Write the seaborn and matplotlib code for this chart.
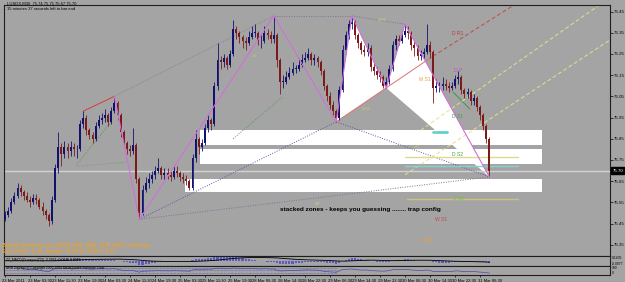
import numpy as np
import pandas as pd
import matplotlib
matplotlib.use("Agg")
import matplotlib.pyplot as plt
import matplotlib.transforms as mtransforms
import seaborn as sns

# ---------------- data (hourly candles) ----------------
first_open = 75.47
closes = [75.49, 75.51, 75.55, 75.58, 75.62, 75.60, 75.58, 75.56, 75.55, 75.57,
          75.56, 75.53, 75.51, 75.49, 75.46, 75.56, 75.71, 75.81, 75.78, 75.81,
          75.79, 75.81, 75.80, 75.80, 75.92, 75.95, 75.89, 75.87, 75.85, 75.91,
          75.94, 75.95, 75.96, 75.93, 75.98, 76.02, 75.96, 75.88, 75.83, 75.80,
          75.79, 75.82, 75.66, 75.50, 75.61, 75.64, 75.66, 75.68, 75.70, 75.71,
          75.68, 75.69, 75.68, 75.67, 75.70, 75.69, 75.67, 75.66, 75.65, 75.62,
          75.76, 75.85, 75.81, 75.83, 75.90, 75.94, 75.92, 76.10, 76.22, 76.21,
          76.23, 76.20, 76.25, 76.37, 76.35, 76.33, 76.31, 76.30, 76.33, 76.35,
          76.35, 76.31, 76.31, 76.35, 76.34, 76.32, 76.34, 76.22, 76.12, 76.12,
          76.14, 76.16, 76.18, 76.18, 76.20, 76.22, 76.23, 76.25, 76.22, 76.23,
          76.21, 76.17, 76.10, 76.05, 76.01, 75.98, 75.95, 76.08, 76.27, 76.34,
          76.39, 76.40, 76.34, 76.30, 76.27, 76.26, 76.28, 76.19, 76.17, 76.15,
          76.14, 76.10, 76.12, 76.18, 76.29, 76.32, 76.31, 76.34, 76.36, 76.35,
          76.29, 76.28, 76.24, 76.25, 76.26, 76.29, 76.26, 76.09, 76.10, 76.10,
          76.11, 76.10, 76.09, 76.10, 76.13, 76.14, 76.08, 76.06, 76.07, 76.03,
          76.04, 76.00, 75.96, 75.91, 75.85, 75.70]
highs = [75.51, 75.53, 75.57, 75.60, 75.64, 75.63, 75.61, 75.60, 75.58, 75.59,
         75.59, 75.57, 75.55, 75.52, 75.50, 75.58, 75.73, 75.88, 75.83, 75.84,
         75.83, 75.84, 75.83, 75.82, 75.94, 75.98, 75.96, 75.90, 75.88, 75.93,
         75.96, 75.97, 75.99, 75.97, 76.00, 76.05, 76.03, 75.97, 75.89, 75.84,
         75.82, 75.90, 75.83, 75.67, 75.63, 75.67, 75.69, 75.70, 75.72, 75.76,
         75.72, 75.71, 75.71, 75.70, 75.72, 75.72, 75.70, 75.69, 75.68, 75.66,
         75.78, 75.89, 75.86, 75.85, 75.92, 75.96, 75.95, 76.12, 76.30, 76.24,
         76.25, 76.24, 76.27, 76.41, 76.38, 76.36, 76.34, 76.33, 76.36, 76.38,
         76.39, 76.36, 76.34, 76.38, 76.37, 76.36, 76.43, 76.35, 76.23, 76.15,
         76.17, 76.19, 76.21, 76.20, 76.23, 76.25, 76.26, 76.28, 76.26, 76.25,
         76.24, 76.22, 76.18, 76.11, 76.07, 76.03, 75.99, 76.10, 76.29, 76.36,
         76.41, 76.43, 76.41, 76.35, 76.31, 76.29, 76.30, 76.29, 76.21, 76.19,
         76.17, 76.15, 76.14, 76.20, 76.31, 76.34, 76.34, 76.36, 76.39, 76.38,
         76.36, 76.31, 76.29, 76.27, 76.28, 76.39, 76.31, 76.27, 76.13, 76.12,
         76.14, 76.13, 76.12, 76.12, 76.15, 76.17, 76.15, 76.09, 76.09, 76.08,
         76.06, 76.05, 76.01, 75.97, 75.92, 75.86]
lows = [75.46, 75.48, 75.50, 75.54, 75.57, 75.58, 75.56, 75.55, 75.53, 75.54,
        75.54, 75.52, 75.49, 75.47, 75.44, 75.45, 75.55, 75.69, 75.72, 75.76,
        75.76, 75.77, 75.77, 75.76, 75.79, 75.90, 75.87, 75.85, 75.83, 75.84,
        75.90, 75.92, 75.93, 75.91, 75.92, 75.97, 75.94, 75.86, 75.81, 75.78,
        75.77, 75.78, 75.64, 75.47, 75.49, 75.60, 75.62, 75.64, 75.66, 75.69,
        75.66, 75.66, 75.66, 75.65, 75.66, 75.67, 75.65, 75.64, 75.63, 75.61,
        75.61, 75.74, 75.78, 75.79, 75.82, 75.88, 75.89, 75.91, 76.08, 76.18,
        76.19, 76.18, 76.19, 76.24, 76.32, 76.30, 76.28, 76.27, 76.29, 76.32,
        76.33, 76.29, 76.28, 76.30, 76.32, 76.30, 76.30, 76.19, 76.06, 76.09,
        76.11, 76.13, 76.15, 76.16, 76.17, 76.19, 76.21, 76.22, 76.20, 76.20,
        76.19, 76.15, 76.08, 76.03, 75.99, 75.96, 75.93, 75.94, 76.07, 76.25,
        76.32, 76.37, 76.32, 76.28, 76.25, 76.24, 76.24, 76.17, 76.15, 76.13,
        76.12, 76.09, 76.09, 76.11, 76.17, 76.27, 76.29, 76.30, 76.33, 76.32,
        76.27, 76.24, 76.22, 76.22, 76.23, 76.25, 76.23, 76.02, 76.07, 76.07,
        76.08, 76.08, 76.07, 76.08, 76.09, 76.11, 76.06, 76.04, 76.04, 76.01,
        76.01, 75.98, 75.94, 75.89, 75.83, 75.67]

date_tick_bars = [0, 8, 16, 24, 32, 40, 48, 56, 64, 72, 80, 88, 96, 104, 112,
                  120, 128, 136, 144, 152]
date_labels = ["23 Mar 2011", "23 Mar 03:30", "23 Mar 11:30", "23 Mar 19:30",
               "24 Mar 03:30", "24 Mar 11:30", "24 Mar 19:30", "25 Mar 03:30",
               "25 Mar 11:30", "25 Mar 19:30", "28 Mar 06:30", "28 Mar 14:30",
               "28 Mar 22:30", "29 Mar 06:30", "29 Mar 14:30", "29 Mar 22:30",
               "30 Mar 06:30", "30 Mar 14:30", "30 Mar 22:30", "31 Mar 06:30"]
price_ticks = [75.35, 75.45, 75.55, 75.65, 75.75, 75.85, 75.95, 76.05, 76.15,
               76.25, 76.35, 76.45]

# stacked zones (white rectangles)
zone_low = [75.82, 75.73, 75.60]
zone_high = [75.89, 75.80, 75.66]
zone_start = [62.4, 62.4, 57.6]
zone_end = [171.8, 171.8, 171.8]

# zigzag and butterfly pattern
zigzag_bars = [35, 43, 86, 106, 111, 122, 128, 155]
zigzag_prices = [76.05, 75.47, 76.43, 75.93, 76.43, 76.09, 76.39, 75.67]
xab_bars = [106, 111, 122]
xab_prices = [75.93, 76.43, 76.09]
bcd_bars = [122, 128, 155]
bcd_prices = [76.09, 76.39, 75.67]

dotted_bars = [[35, 86], [86, 111], [111, 128], [23, 34], [23, 39], [73, 89],
               [43, 106], [106, 155], [43, 155]]
dotted_prices = [[76.05, 76.43], [76.43, 76.43], [76.43, 76.39], [75.73, 75.93],
                 [75.72, 75.74], [75.85, 76.05], [75.47, 75.93], [75.93, 75.67],
                 [75.47, 75.67]]
dotted_colors = ["#8a7a9a", "#8a6a9a", "#8a6a9a", "#4f9a4f", "#7a9a6a",
                 "#4f9a4f", "#5a5aaa", "#5a5aaa", "#8a6a9a"]

solid_bars = [[25, 35], [106, 137], [143.4, 148.8]]
solid_prices = [[75.98, 76.05], [75.93, 76.24], [76.07, 75.99]]
solid_colors = ["#d83c3c", "#e07070", "#3a9a3a"]

dashed_bars = [[137, 166], [133, 192], [128, 194]]
dashed_prices = [[76.24, 76.51], [75.89, 76.50], [75.68, 76.32]]
dashed_colors = ["#c04848", "#e6e08a", "#e6e08a"]

level_start = [128, 128, 128.6, 137]
level_end = [164, 164, 164, 141.4]
level_price = [75.765, 75.722, 75.566, 75.88]
level_colors = ["#e2d88e", "#86d2d2", "#cac27e", "#5ccfd6"]
level_widths = [1.0, 1.0, 1.0, 2.0]

pivot_names = ["D R1", "M S1", "D P", "D S1", "D S2", "D S3", "W S1", "W S2"]
pivot_bars = [143, 132.6, 143.7, 143, 143, 143.5, 137.6, 132.8]
pivot_prices = [76.345, 76.13, 76.17, 75.953, 75.775, 75.566, 75.47, 75.37]
pivot_colors = ["#b83a3a", "#e8a040", "#c050c0", "#48a048", "#48a048",
                "#78c040", "#c84848", "#e8a040"]

ratio_names = ["0.886", "0.618", "1.0", "1.27", "1.41", "WP"]
ratio_bars = [119.4, 114.2, 79, 137, 130.5, 99.2]
ratio_prices = [76.41, 75.99, 76.24, 75.875, 75.81, 75.54]

comment = "stacked zones - keeps you guessing ........ trap config"
comment_bar = 88
comment_price = 75.515

# ---------------- style ----------------
sns.set_style("white")
plt.rcParams["font.family"] = ["Liberation Sans", "DejaVu Sans"]
BG = "#a4a4a4"
FRAME = "#1e1e1e"

fig = plt.figure(figsize=(6.25, 2.82), dpi=100, facecolor=BG)
W, H = 625.0, 282.0
ax = fig.add_axes([4 / W, 1 - 256 / H, 606 / W, 251 / H], facecolor=BG)
ax1 = fig.add_axes([4 / W, 1 - 265.5 / H, 606 / W, 9.5 / H], facecolor=BG, sharex=ax)
ax2 = fig.add_axes([4 / W, 1 - 274.5 / H, 606 / W, 9 / H], facecolor=BG, sharex=ax)

n = len(closes)
x = np.arange(n)
c = np.array(closes)
o = np.array([first_open] + closes[:-1])
h = np.array(highs)
lo = np.array(lows)

# zones
for zl, zh, zs, ze in zip(zone_low, zone_high, zone_start, zone_end):
    ax.fill_between([zs, ze], [zl, zl], [zh, zh], color="white", lw=0, zorder=1)

# butterfly triangles
ax.fill(xab_bars, xab_prices, color="white", lw=0, zorder=1.2)
ax.fill(bcd_bars, bcd_prices, color="white", lw=0, zorder=1.2)

# current price line
ax.axhline(closes[-1], color="#d2d2d2", lw=1.0, zorder=1.5)

# dotted / solid / dashed lines
for bx, py, col in zip(dotted_bars, dotted_prices, dotted_colors):
    ax.plot(bx, py, color=col, lw=0.7, ls=(0, (1, 1.5)), zorder=2)
for bx, py, col in zip(solid_bars, solid_prices, solid_colors):
    ax.plot(bx, py, color=col, lw=0.7, zorder=2)
for bx, py, col in zip(dashed_bars, dashed_prices, dashed_colors):
    ax.plot(bx, py, color=col, lw=0.7, ls=(0, (4, 2.5)), zorder=2)
for s, e, p, col, lw in zip(level_start, level_end, level_price, level_colors, level_widths):
    ax.plot([s, e], [p, p], color=col, lw=lw, zorder=2)

# candles
up = c >= o
col = np.where(up, "#12126e", "#7c1a1a")
ax.vlines(x, lo, h, colors=col, lw=0.6, zorder=3)
body = np.maximum(np.abs(c - o), 0.003)
ax.bar(x, body, bottom=np.minimum(o, c), width=0.62, color=col, lw=0, zorder=3)

# zigzag via seaborn
zz = pd.DataFrame({"bar": zigzag_bars, "price": zigzag_prices})
sns.lineplot(data=zz, x="bar", y="price", ax=ax, color="#d070d8", lw=0.8,
             sort=False, estimator=None, zorder=4)

# labels
for t, bx, py, cl in zip(pivot_names, pivot_bars, pivot_prices, pivot_colors):
    ax.text(bx, py, t, color=cl, fontsize=3.6, va="center", ha="left", zorder=5)
for t, bx, py in zip(ratio_names, ratio_bars, ratio_prices):
    ax.text(bx, py, t, color="#c8d070", fontsize=2.6, va="center", ha="left", zorder=5)
ax.text(comment_bar, comment_price, comment, color="black", fontsize=4.6,
        fontweight="bold", va="center", ha="left", zorder=5)

ax.set_xlim(-0.32, 193.6)
ax.set_ylim(75.297, 76.481)
ax.yaxis.tick_right()
ax.set_yticks(price_ticks)
ax.set_yticklabels([f"{p:.2f}" for p in price_ticks])
ax.tick_params(axis="y", right=True, length=2, width=0.5, labelsize=3.2, pad=1,
               colors="black")
ax.tick_params(axis="x", bottom=False, labelbottom=False)
ax.set_xlabel("")
ax.set_ylabel("")

# current price tag
tr = mtransforms.blended_transform_factory(ax.transAxes, ax.transData)
ax.text(1.004, closes[-1], f"{closes[-1]:.2f}", transform=tr, fontsize=3.2,
        color="white", va="center", ha="left",
        bbox=dict(boxstyle="square,pad=0.25", fc="black", ec="black"))

# indicator panel 1: MACD from closes
cs = pd.Series(closes)
macd = cs.ewm(span=12).mean() - cs.ewm(span=26).mean()
sig = macd.ewm(span=9).mean()
hist = macd - sig
ax1.bar(x, hist, width=0.7, color="#5a5ac8", lw=0, zorder=2)
ax1.plot(x, sig * 0.3, color="black", lw=0.6, zorder=3)
ax1.set_ylim(-0.06, 0.06)
ax1.yaxis.tick_right()
ax1.set_yticks([0.035, -0.035])
ax1.set_yticklabels(["0.1405", "-0.0077"])
ax1.tick_params(axis="y", length=0, labelsize=2.4, pad=1.5, colors="black")
ax1.tick_params(axis="x", bottom=False, labelbottom=False)
ax1.text(0.004, 0.8, "ZZ_MACD(Zerosync(ZZ)) -0.0064 -0.0046 0.0018", transform=ax1.transAxes,
         fontsize=2.4, va="top", ha="left", color="black")

# indicator panel 2: RSI from closes
d = cs.diff()
g = d.clip(lower=0).ewm(alpha=1 / 14).mean()
l = (-d.clip(upper=0)).ewm(alpha=1 / 14).mean()
rsi = 100 - 100 / (1 + g / l.replace(0, np.nan))
ax2.plot(x, rsi, color="#4a4aa8", lw=0.5, zorder=3)
for lev in (85, 50, 15):
    ax2.axhline(lev, color="#5a5ab8", lw=0.5, ls=(0, (1, 1)), xmax=0.55)
ax2.set_ylim(0, 110)
ax2.yaxis.tick_right()
ax2.set_yticks([90, 20])
ax2.set_yticklabels(["100", "0"])
ax2.tick_params(axis="y", length=0, labelsize=2.4, pad=1.5, colors="black")
ax2.text(0.004, 0.95, "NRR ZigZag (c) Copyright 2005-2009 MetaQuotes Software Corp.",
         transform=ax2.transAxes, fontsize=2.4, va="top", ha="left", color="black")

ax2.set_xticks(date_tick_bars)
ax2.set_xticklabels(date_labels, ha="left")
ax2.tick_params(axis="x", bottom=True, length=1.5, width=0.5, labelsize=3.0, pad=1.5,
                colors="black")
off = mtransforms.ScaledTranslation(-2.5 / 100, 0, fig.dpi_scale_trans)
for lab in ax2.get_xticklabels():
    lab.set_transform(lab.get_transform() + off)

for a in (ax, ax1, ax2):
    for sp in a.spines.values():
        sp.set_visible(True)
        sp.set_color(FRAME)
        sp.set_linewidth(0.8)
    a.grid(False)

# header text
fig.text(7 / W, 1 - 1.5 / H, "LUSDX,M30  75.74 75.75 75.67 75.70", fontsize=3.0,
         va="top", ha="left", color="black")
fig.text(7 / W, 1 - 7 / H, "15 minutes 37 seconds left to bar end", fontsize=3.0,
         va="top", ha="left", color="black")
# orange info text
fig.text(2 / W, 1 - 243 / H, "Bullish Butterfly on LUSDX 30M, NRR_ZUP_INFO_v02.mq4",
         fontsize=3.8, fontweight="bold", va="top", ha="left", color="#f0a020")
fig.text(2 / W, 1 - 249.5 / H, "Entry Risk -&.15, Range: 75.54 to 75.85 = 0.31",
         fontsize=3.8, fontweight="bold", va="top", ha="left", color="#f0a020")

fig.savefig("out.png", dpi=100, facecolor=BG)
